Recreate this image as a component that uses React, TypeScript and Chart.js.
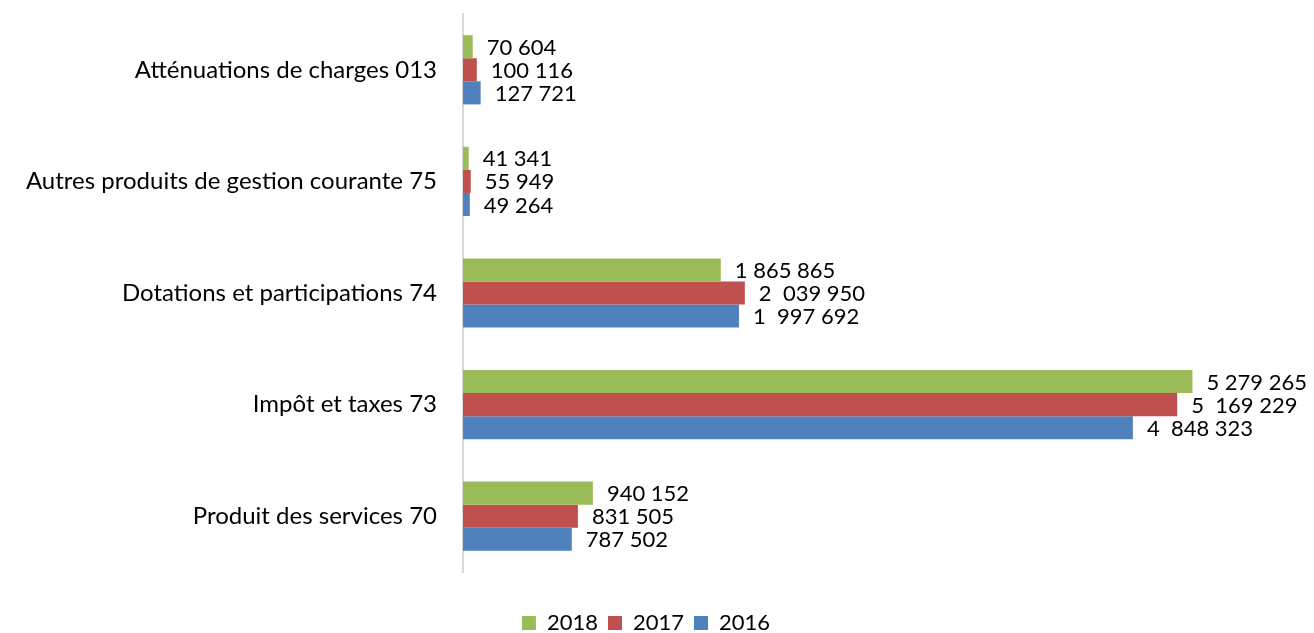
import React, { useEffect, useRef } from "react";
import { Chart, registerables } from "chart.js";

Chart.register(...registerables);

const categories = [
  "Atténuations de charges 013",
  "Autres produits de gestion courante 75",
  "Dotations et participations 74",
  "Impôt et taxes 73",
  "Produit des services 70",
];

const seriesNames = ["2018", "2017", "2016"];
const values2018 = [70604, 41341, 1865865, 5279265, 940152];
const values2017 = [100116, 55949, 2039950, 5169229, 831505];
const values2016 = [127721, 49264, 1997692, 4848323, 787502];

const labels2018 = ["70 604", "41 341", "1 865 865", "5 279 265", "940 152"];
const labels2017 = ["100 116", "55 949", "2  039 950", "5  169 229", "831 505"];
const labels2016 = ["127 721", "49 264", "1  997 692", "4  848 323", "787 502"];

const colors = ["#9BBB59", "#C0504D", "#4F81BD"];
const FONT = "Lato, 'Noto Sans', sans-serif";

const dataLabelPlugin = {
  id: "dataLabels",
  afterDatasetsDraw(chart: any) {
    const ctx = chart.ctx;
    const allLabels = [labels2018, labels2017, labels2016];
    ctx.save();
    ctx.font = `22px ${FONT}`;
    ctx.fillStyle = "#000";
    ctx.textAlign = "left";
    ctx.textBaseline = "middle";
    chart.data.datasets.forEach((ds: any, di: number) => {
      const meta = chart.getDatasetMeta(di);
      meta.data.forEach((el: any, i: number) => {
        ctx.fillText(allLabels[di][i], el.x + 14, el.y + 1);
      });
    });
    ctx.restore();
  },
};

export default function App() {
  const ref = useRef<HTMLCanvasElement | null>(null);
  useEffect(() => {
    if (!ref.current) return;
    const chart = new Chart(ref.current, {
      type: "bar",
      data: {
        labels: categories,
        datasets: [values2018, values2017, values2016].map((vals, i) => ({
          label: seriesNames[i],
          data: vals,
          backgroundColor: colors[i],
          borderWidth: 0,
          barPercentage: 1,
          categoryPercentage: 0.62,
        })),
      },
      options: {
        indexAxis: "y",
        animation: false,
        responsive: false,
        maintainAspectRatio: false,
        layout: { padding: { top: 14, right: 22, bottom: 0, left: 0 } },
        plugins: {
          tooltip: { enabled: false },
          legend: {
            position: "bottom",
            labels: {
              boxWidth: 14,
              boxHeight: 14,
              padding: 10,
              color: "#000",
              font: { family: FONT, size: 22 },
            },
          },
        },
        scales: {
          x: {
            position: "bottom",
            min: 0,
            max: 6000000,
            display: true,
            ticks: { display: false },
            grid: { display: false },
            border: { display: false },
            afterFit: (scale: any) => {
              scale.height = 30;
            },
          },
          y: {
            position: "left",
            grid: { display: false, drawTicks: false },
            border: { display: true, color: "#d9d9d9", width: 2 },
            ticks: {
              color: "#000",
              padding: 26,
              font: { family: FONT, size: 24 },
            },
            afterFit: (scale: any) => {
              scale.width = 463;
              scale.paddingTop = 0;
              scale.paddingBottom = 0;
            },
          },
        },
      },
      plugins: [dataLabelPlugin],
    } as any);
    return () => chart.destroy();
  }, []);

  return (
    <div
      style={{
        position: "absolute",
        left: 0,
        top: 0,
        width: 1314,
        height: 633,
        overflow: "hidden",
        background: "#fff",
      }}
    >
      <canvas ref={ref} width={1314} height={644} style={{ display: "block" }} />
    </div>
  );
}
